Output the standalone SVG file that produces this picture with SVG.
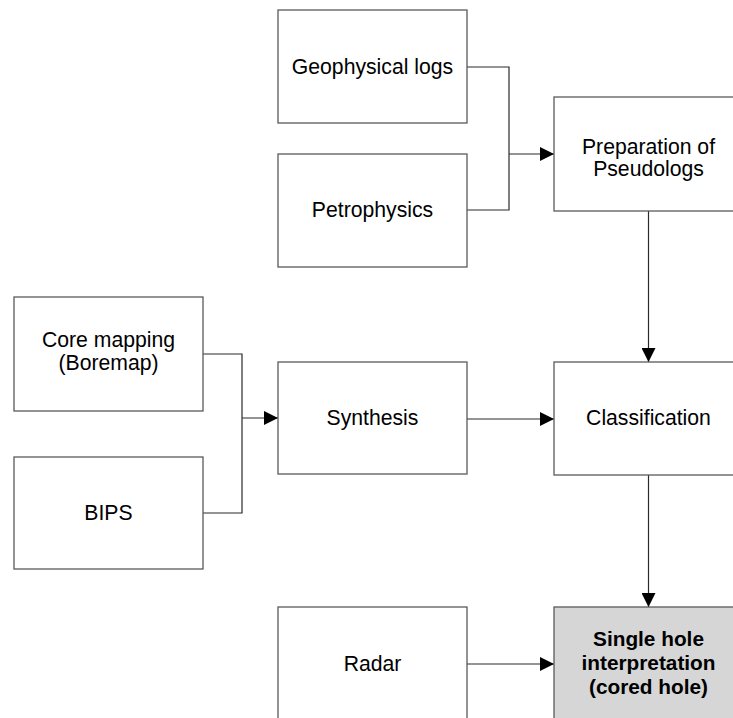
<svg xmlns="http://www.w3.org/2000/svg" width="733" height="718" viewBox="0 0 733 718">
<style>
.box{fill:#ffffff;stroke:#5a5a5a;stroke-width:1.3}
.hl{fill:#d6d6d6;stroke:#5a5a5a;stroke-width:1.3}
.t{font-family:"Liberation Sans",Arial,sans-serif;font-size:21.2px;fill:#000;text-anchor:middle}
.b{font-weight:bold;font-size:20.8px}
.c{fill:none;stroke:#2a2a2a;stroke-width:1.2}
</style>
<defs>
<marker id="ah" markerUnits="userSpaceOnUse" markerWidth="14" markerHeight="14" refX="14" refY="7" orient="auto">
<path d="M0,0 L14,7 L0,14 Z" fill="#000"/>
</marker>
</defs>
<rect width="733" height="718" fill="#ffffff"/>
<g id="connectors">
<polyline class="c" points="467,67 509,67 509,210 467,210"/>
<line class="c" x1="509" y1="154" x2="554" y2="154" marker-end="url(#ah)"/>
<line class="c" x1="648.5" y1="211" x2="648.5" y2="362" marker-end="url(#ah)"/>
<polyline class="c" points="203,354 242,354 242,513 203,513"/>
<line class="c" x1="242" y1="418" x2="278" y2="418" marker-end="url(#ah)"/>
<line class="c" x1="467" y1="419" x2="554" y2="419" marker-end="url(#ah)"/>
<line class="c" x1="648.5" y1="475" x2="648.5" y2="607" marker-end="url(#ah)"/>
<line class="c" x1="467" y1="664" x2="554" y2="664" marker-end="url(#ah)"/>
</g>
<g id="geophysical">
<rect class="box" x="278" y="10" width="189" height="113"/>
<text class="t" x="372.5" y="74">Geophysical logs</text>
</g>
<g id="petrophysics">
<rect class="box" x="278" y="154" width="189" height="113"/>
<text class="t" x="372.5" y="217">Petrophysics</text>
</g>
<g id="preparation">
<rect class="box" x="554" y="97" width="189" height="114"/>
<text class="t" x="648.5" y="154">Preparation of</text>
<text class="t" x="648.5" y="176">Pseudologs</text>
</g>
<g id="coremapping">
<rect class="box" x="14" y="297" width="189" height="114"/>
<text class="t" x="108.5" y="347">Core mapping</text>
<text class="t" x="108.5" y="370">(Boremap)</text>
</g>
<g id="bips">
<rect class="box" x="14" y="457" width="189" height="112"/>
<text class="t" x="108.5" y="520">BIPS</text>
</g>
<g id="synthesis">
<rect class="box" x="278" y="362" width="189" height="112"/>
<text class="t" x="372.5" y="425">Synthesis</text>
</g>
<g id="classification">
<rect class="box" x="554" y="362" width="189" height="113"/>
<text class="t" x="648.5" y="425">Classification</text>
</g>
<g id="radar">
<rect class="box" x="278" y="607" width="189" height="113"/>
<text class="t" x="372.5" y="671">Radar</text>
</g>
<g id="singlehole">
<rect class="hl" x="554" y="607" width="189" height="113"/>
<text class="t b" x="648.5" y="646">Single hole</text>
<text class="t b" x="648.5" y="670">interpretation</text>
<text class="t b" x="648.5" y="694">(cored hole)</text>
</g>
</svg>
